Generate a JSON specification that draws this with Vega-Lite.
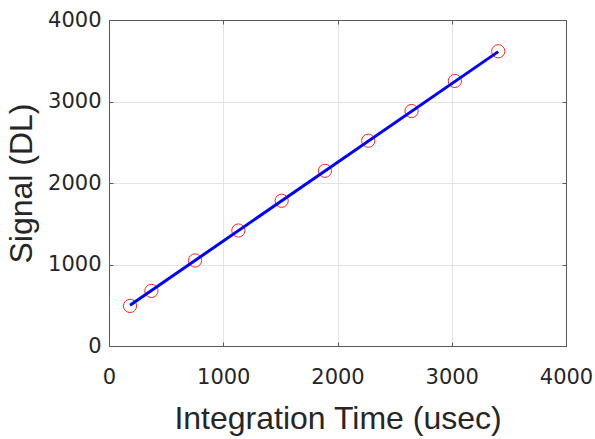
{
  "$schema": "https://vega.github.io/schema/vega-lite/v6.json",
  "autosize": "none",
  "padding": {"left": 109, "top": 20, "right": 29, "bottom": 93},
  "width": 457,
  "height": 326,
  "background": "white",
  "datasets": {
    "meas": [
      {"t": 184, "s": 492},
      {"t": 371, "s": 676},
      {"t": 753, "s": 1049},
      {"t": 1132, "s": 1417},
      {"t": 1511, "s": 1782},
      {"t": 1890, "s": 2150},
      {"t": 2269, "s": 2519},
      {"t": 2648, "s": 2883},
      {"t": 3027, "s": 3252},
      {"t": 3407, "s": 3616}
    ],
    "fit": [
      {"t": 184, "s": 500},
      {"t": 3407, "s": 3612}
    ]
  },
  "config": {
    "view": {"stroke": "#5a5a5a", "strokeWidth": 1},
    "axis": {
      "labelFont": "DejaVu Sans",
      "labelFontSize": 21,
      "labelColor": "#262626",
      "labelFlush": false,
      "titleFont": "Liberation Sans",
      "titleFontSize": 32,
      "titleFontWeight": "normal",
      "titleColor": "#262626",
      "domainColor": "#5a5a5a",
      "tickColor": "#5a5a5a",
      "tickSize": -4,
      "gridColor": "#e3e3e3",
      "gridWidth": 1,
      "gridOpacity": 1
    }
  },
  "layer": [
    {
      "data": {"name": "meas"},
      "mark": {"type": "point", "shape": "circle", "filled": false, "stroke": "#ff0000", "strokeWidth": 1, "size": 175, "opacity": 0.85},
      "encoding": {
        "x": {"field": "t", "type": "quantitative", "scale": {"domain": [0, 4000], "nice": false},
              "axis": {"title": "Integration Time (usec)", "values": [0, 1000, 2000, 3000, 4000], "format": "d", "labelPadding": 24, "titlePadding": 16}},
        "y": {"field": "s", "type": "quantitative", "scale": {"domain": [0, 4000], "nice": false},
              "axis": {"title": "Signal (DL)", "values": [0, 1000, 2000, 3000, 4000], "format": "d", "labelPadding": 12, "titlePadding": 9}}
      }
    },
    {
      "data": {"name": "fit"},
      "mark": {"type": "line", "color": "#0000ff", "strokeWidth": 3},
      "encoding": {
        "x": {"field": "t", "type": "quantitative", "scale": {"domain": [0, 4000], "nice": false},
              "axis": {"orient": "top", "title": null, "labels": false, "grid": false, "values": [0, 1000, 2000, 3000, 4000]}},
        "y": {"field": "s", "type": "quantitative", "scale": {"domain": [0, 4000], "nice": false},
              "axis": {"orient": "right", "title": null, "labels": false, "grid": false, "values": [0, 1000, 2000, 3000, 4000]}}
      }
    }
  ],
  "resolve": {"axis": {"x": "independent", "y": "independent"}}
}
